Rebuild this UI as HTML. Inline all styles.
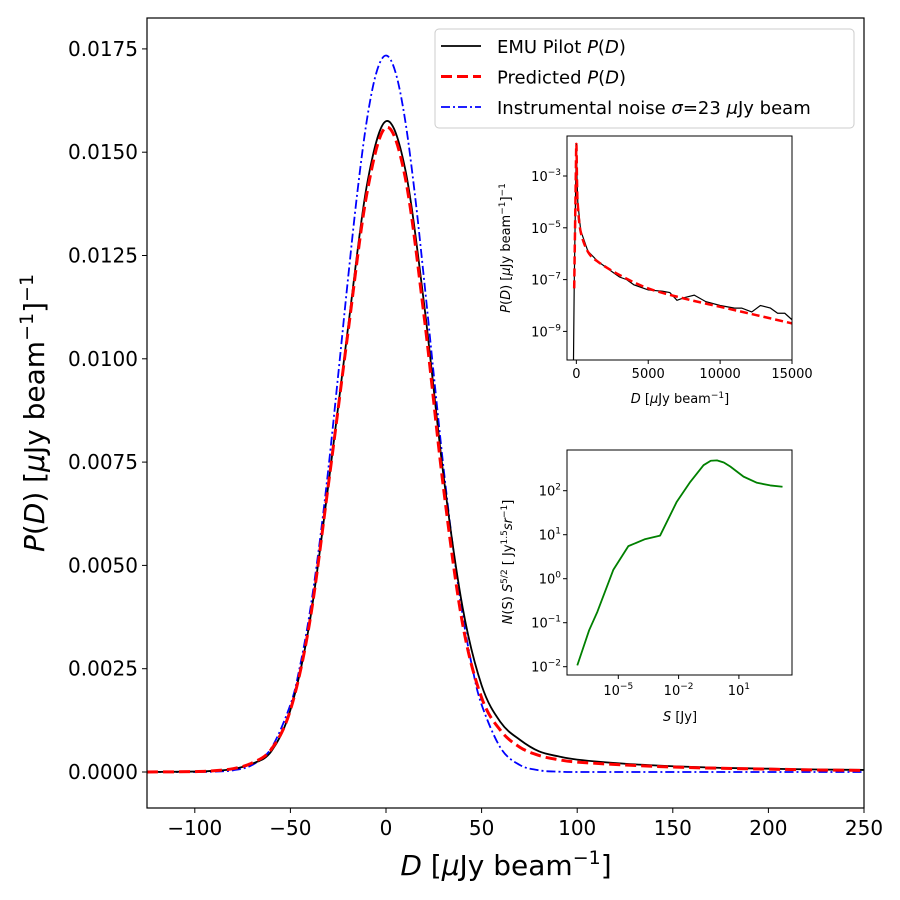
<!DOCTYPE html>
<html><head><meta charset="utf-8"><style>
body{margin:0;background:#fff}
svg{display:block;font-family:"DejaVu Sans","Liberation Sans",sans-serif}
</style></head><body>
<svg id="chart" width="900" height="900" viewBox="0 0 900 900">
<rect width="900" height="900" fill="#fff"/>
</svg>
<script>
// main chart data
const xs=[-125,-100,-90,-80,-70,-60,-50,-40,-30,-20,-10,0,10,20,30,40,50,60,70,80,90,100,125,150,175,200,225,250];
const emuVals=[0,0.00001,0.00003,0.00007,0.0002,0.0005,0.0015,0.0036,0.0070,0.0107,0.0142,0.01575,0.0146,0.0113,0.0072,0.0040,0.0021,0.0012,0.00078,0.0005,0.00038,0.0003,0.0002,0.00014,0.0001,0.00008,0.00006,0.00005];
const predVals=[0,0.00001,0.00003,0.00008,0.00022,0.00055,0.0015,0.0036,0.0070,0.0106,0.0140,0.0156,0.0144,0.0110,0.0069,0.0036,0.0018,0.0010,0.0006,0.0004,0.0003,0.00024,0.00017,0.00012,0.00009,0.00007,0.00005,0.00004];
const noiseX=[-125,-100,-90,-80,-70,-60,-50,-45,-40,-35,-30,-25,-20,-15,-10,-5,0,5,10,15,20,25,30,35,40,45,50,60,70,80,90,100,125,250];
const noiseVals=[0,0,0.000008,0.000041,0.000169,0.000578,0.00163,0.00256,0.00382,0.00545,0.0074,0.00961,0.01188,0.01402,0.01578,0.01693,0.01734,0.01693,0.01578,0.01402,0.01188,0.00961,0.0074,0.00545,0.00382,0.00256,0.00163,0.000578,0.000169,0.000041,0.000008,0,0,0];
const xTicks=[-100,-50,0,50,100,150,200,250];
const yTicks=[0,0.0025,0.005,0.0075,0.01,0.0125,0.015,0.0175];
const yTickLabels=["0.0000","0.0025","0.0050","0.0075","0.0100","0.0125","0.0150","0.0175"];
// inset 1 data (log10 P(D))
const in1X=[-200,-150,-50,0,50,100,300,800,1500,2000,2500,3000,3500,4000,5000,6000,6500,7000,7500,8200,9000,10000,11000,11500,12200,12800,13500,14000,14500,15000];
const in1Emu=[-10.2,-7.3,-3.5,-1.76,-3.2,-4.0,-5.1,-5.9,-6.3,-6.5,-6.7,-6.9,-7.0,-7.2,-7.4,-7.45,-7.5,-7.8,-7.7,-7.6,-7.85,-8.0,-8.1,-8.1,-8.25,-8.0,-8.1,-8.3,-8.3,-8.55];
const in1PredX=[-150,-50,0,50,100,300,800,1500,3000,5000,7500,10000,12500,15000];
const in1Pred=[-7.34,-3.5,-1.76,-3.3,-4.1,-5.15,-5.92,-6.31,-6.82,-7.34,-7.73,-8.05,-8.37,-8.69];
const in1XTicks=[0,5000,10000,15000];
const in1YTicks=[-3,-5,-7,-9];
// inset 2 data (log10 S, log10 N)
const in2LogS=[-7.04,-6.45,-6.04,-5.25,-4.5,-3.66,-2.92,-2.09,-1.42,-0.76,-0.4,-0.09,0.25,0.57,1.23,1.9,2.56,3.17];
const in2LogN=[-1.97,-1.17,-0.75,0.2,0.74,0.9,0.98,1.75,2.2,2.58,2.68,2.69,2.64,2.55,2.32,2.18,2.12,2.09];
const in2XTicks=[-5,-2,1];
const in2YTicks=[-2,-1,0,1,2];

const NS="http://www.w3.org/2000/svg";
const svg=document.getElementById('chart');
function el(t,a,p){const e=document.createElementNS(NS,t);for(const k in a)e.setAttribute(k,a[k]);(p||svg).appendChild(e);return e;}
function smooth(pts){let d="M"+pts[0][0]+","+pts[0][1];for(let i=0;i<pts.length-1;i++){const p0=pts[i-1]||pts[i],p1=pts[i],p2=pts[i+1],p3=pts[i+2]||p2;const c1=[p1[0]+(p2[0]-p0[0])/6,p1[1]+(p2[1]-p0[1])/6],c2=[p2[0]-(p3[0]-p1[0])/6,p2[1]-(p3[1]-p1[1])/6];d+="C"+c1+" "+c2+" "+p2;}return d;}

// main axes
const L=147,R=864,T=18,B=808;
const sx=v=>L+(v+125)/375*(R-L);
const sy=v=>772-v/0.0025*103.3;
const clip=el('clipPath',{id:'mc'});el('rect',{x:L,y:T,width:R-L,height:B-T},clip);
let g=el('g',{'clip-path':'url(#mc)'});
let p,t;
p=el('path',{d:smooth(noiseX.map((x,i)=>[sx(x),sy(noiseVals[i])])),fill:'none',stroke:'#0000ff','stroke-width':1.8,'stroke-dasharray':'9,3,2,3'},g);

p=el('path',{d:smooth(xs.map((x,i)=>[sx(x),sy(emuVals[i])])),fill:'none',stroke:'#000','stroke-width':1.8},g);

p=el('path',{d:smooth(xs.map((x,i)=>[sx(x),sy(predVals[i])])),fill:'none',stroke:'#ff0000','stroke-width':3,'stroke-dasharray':'11,5'},g);

p=el('rect',{x:L,y:T,width:R-L,height:B-T,fill:'none',stroke:'#000','stroke-width':1.2});

xTicks.forEach(v=>{el('line',{x1:sx(v),x2:sx(v),y1:B,y2:B+5,stroke:'#000'});
 const t=el('text',{x:sx(v),y:B+27,'text-anchor':'middle','font-size':20});t.textContent=(v<0?'\u2212'+(-v):v);
 });
yTicks.forEach((v,i)=>{el('line',{x1:L-5,x2:L,y1:sy(v),y2:sy(v),stroke:'#000'});
 const t=el('text',{x:L-9,y:sy(v)+7,'text-anchor':'end','font-size':20});t.textContent=yTickLabels[i];
 });
p=el('text',{x:506,y:875,'text-anchor':'middle','font-size':28});
p.innerHTML='<tspan font-style="italic">D</tspan> [<tspan font-style="italic">μ</tspan>Jy beam<tspan dy="-11" font-size="19">−1</tspan><tspan dy="11">]</tspan>';

p=el('text',{x:0,y:0,'text-anchor':'middle','font-size':28,transform:'translate(44,413) rotate(-90)'});
p.innerHTML='<tspan font-style="italic">P</tspan>(<tspan font-style="italic">D</tspan>) [<tspan font-style="italic">μ</tspan>Jy beam<tspan dy="-11" font-size="19">−1</tspan><tspan dy="11">]</tspan><tspan dy="-11" font-size="19">−1</tspan>';


// legend
const lg=el('g',{});
el('rect',{x:435,y:29,width:419,height:99,rx:4,fill:'#fff','fill-opacity':0.8,stroke:'#ccc'},lg);
const leg=[['#000','none',1.8,'EMU Pilot <tspan font-style="italic">P</tspan>(<tspan font-style="italic">D</tspan>)','legend-entry-emu'],
['#f00','11,5',3,'Predicted <tspan font-style="italic">P</tspan>(<tspan font-style="italic">D</tspan>)','legend-entry-predicted'],
['#00f','9,3,2,3',1.8,'Instrumental noise <tspan font-style="italic">σ</tspan>=23 <tspan font-style="italic">μ</tspan>Jy  beam','legend-entry-noise']];
leg.forEach((e,i)=>{const y=46+i*30.5;const gg=el('g',{},lg);
 el('line',{x1:441,x2:481,y1:y,y2:y,stroke:e[0],'stroke-width':e[2],'stroke-dasharray':e[1]},gg);
 const t=el('text',{x:497,y:y+7,'font-size':18,'xml:space':'preserve'},gg);t.innerHTML=e[3];});

// inset 1
const a1={L:567,R:792,T:136,B:360};
const ix1=v=>a1.L+(v+650)/15650*(a1.R-a1.L);
const iy1=v=>176-(v+3)*25.9;
const c1=el('clipPath',{id:'c1'});el('rect',{x:a1.L,y:a1.T,width:a1.R-a1.L,height:a1.B-a1.T},c1);
const g1=el('g',{});
el('rect',{x:a1.L,y:a1.T,width:a1.R-a1.L,height:a1.B-a1.T,fill:'#fff'},g1);
const g1c=el('g',{'clip-path':'url(#c1)'},g1);
p=el('path',{d:'M'+in1X.map((x,i)=>ix1(x)+','+iy1(in1Emu[i])).join('L'),fill:'none',stroke:'#000','stroke-width':1.2},g1c);

p=el('path',{d:smooth(in1PredX.map((x,i)=>[ix1(x),iy1(in1Pred[i])])),fill:'none',stroke:'#f00','stroke-width':2.5,'stroke-dasharray':'8,4'},g1c);

el('rect',{x:a1.L,y:a1.T,width:a1.R-a1.L,height:a1.B-a1.T,fill:'none',stroke:'#000'},g1);
in1XTicks.forEach(v=>{el('line',{x1:ix1(v),x2:ix1(v),y1:a1.B,y2:a1.B+4,stroke:'#000'},g1);
 const t=el('text',{x:ix1(v),y:a1.B+18,'text-anchor':'middle','font-size':13},g1);t.textContent=v;});
in1YTicks.forEach(v=>{el('line',{x1:a1.L-4,x2:a1.L,y1:iy1(v),y2:iy1(v),stroke:'#000'},g1);
 const t=el('text',{x:a1.L-6,y:iy1(v)+5,'text-anchor':'end','font-size':13},g1);t.innerHTML='10<tspan dy="-6" font-size="9">−'+(-v)+'</tspan>';});
t=el('text',{x:680,y:403,'text-anchor':'middle','font-size':13},g1);
t.innerHTML='<tspan font-style="italic">D</tspan> [<tspan font-style="italic">μ</tspan>Jy beam<tspan dy="-5" font-size="9">−1</tspan><tspan dy="5">]</tspan>';
t=el('text',{x:0,y:0,'text-anchor':'middle','font-size':13,transform:'translate(510,248) rotate(-90)'},g1);
t.innerHTML='<tspan font-style="italic">P</tspan>(<tspan font-style="italic">D</tspan>) [<tspan font-style="italic">μ</tspan>Jy beam<tspan dy="-5" font-size="9">−1</tspan><tspan dy="5">]</tspan><tspan dy="-5" font-size="9">−1</tspan>';

// inset 2
const a2={L:567,R:792,T:450,B:675};
const ix2=v=>618.3+(v+5)*20.1;
const iy2=v=>490.7-(v-2)*44;
const g2=el('g',{});
el('rect',{x:a2.L,y:a2.T,width:a2.R-a2.L,height:a2.B-a2.T,fill:'#fff',stroke:'#000'},g2);
p=el('path',{d:'M'+in2LogS.map((x,i)=>ix2(x)+','+iy2(in2LogN[i])).join('L'),fill:'none',stroke:'#008000','stroke-width':1.8,'stroke-linejoin':'round'},g2);

in2XTicks.forEach(v=>{el('line',{x1:ix2(v),x2:ix2(v),y1:a2.B,y2:a2.B+4,stroke:'#000'},g2);
 const t=el('text',{x:ix2(v),y:a2.B+20,'text-anchor':'middle','font-size':13},g2);t.innerHTML='10<tspan dy="-6" font-size="9">'+(v<0?'−'+(-v):v)+'</tspan>';});
in2YTicks.forEach(v=>{el('line',{x1:a2.L-4,x2:a2.L,y1:iy2(v),y2:iy2(v),stroke:'#000'},g2);
 const t=el('text',{x:a2.L-6,y:iy2(v)+5,'text-anchor':'end','font-size':13},g2);t.innerHTML='10<tspan dy="-6" font-size="9">'+(v<0?'−'+(-v):v)+'</tspan>';});
t=el('text',{x:680,y:721,'text-anchor':'middle','font-size':13},g2);
t.innerHTML='<tspan font-style="italic">S</tspan> [Jy]';
t=el('text',{x:0,y:0,'text-anchor':'middle','font-size':13,transform:'translate(512,562) rotate(-90)'},g2);
t.innerHTML='<tspan font-style="italic">N</tspan>(S) <tspan font-style="italic">S</tspan><tspan dy="-5" font-size="9">5/2</tspan><tspan dy="5"> [ Jy</tspan><tspan dy="-5" font-size="9">1.5</tspan><tspan dy="5" font-style="italic">sr</tspan><tspan dy="-5" font-size="9">−1</tspan><tspan dy="5">]</tspan>';
</script>
</body></html>
